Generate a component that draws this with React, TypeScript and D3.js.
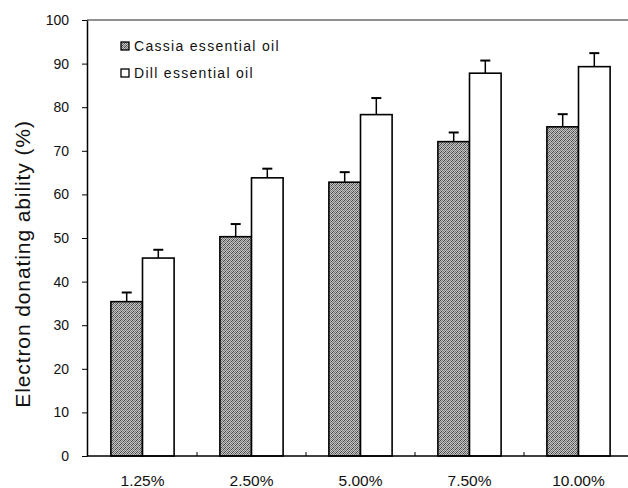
import React, { useEffect, useRef } from "react";
import * as d3 from "d3";

const categories = ["1.25%", "2.50%", "5.00%", "7.50%", "10.00%"];
const cassia = [35.4, 50.3, 62.8, 72.1, 75.5];
const cassiaErr = [2.1, 2.9, 2.3, 2.1, 2.9];
const dill = [45.4, 63.8, 78.3, 87.8, 89.3];
const dillErr = [1.9, 2.1, 3.8, 2.9, 3.1];
const yTicks = [0, 10, 20, 30, 40, 50, 60, 70, 80, 90, 100];
const seriesNames = ["Cassia essential oil", "Dill essential oil"];

const FONT = "'Liberation Sans', Arial, Helvetica, sans-serif";

const App = () => {
  const ref = useRef<SVGSVGElement>(null);

  useEffect(() => {
    const svg = d3.select(ref.current);
    svg.selectAll("*").remove();

    const W = 628;
    const H = 488;
    const left = 87;
    const top = 20;
    const bottom = 456;

    svg.attr("width", W).attr("height", H);

    // stippled grey fill for the cassia bars
    const defs = svg.append("defs");
    const pat = defs
      .append("pattern")
      .attr("id", "stipple")
      .attr("patternUnits", "userSpaceOnUse")
      .attr("width", 4)
      .attr("height", 4);
    pat.append("rect").attr("width", 4).attr("height", 4).attr("fill", "#c4c4c4");
    [
      [0, 0],
      [2, 0],
      [1, 1],
      [3, 1],
      [0, 2],
      [2, 2],
      [1, 3],
      [3, 3],
    ].forEach(([x, y], i) => {
      pat
        .append("rect")
        .attr("x", x)
        .attr("y", y)
        .attr("width", 1)
        .attr("height", 1)
        .attr("fill", i % 3 === 0 ? "#444" : "#777");
    });

    const x0 = d3.scaleBand().domain(categories).range([88, 633]).paddingInner(0.42).paddingOuter(0.21);
    const x1 = d3.scaleBand().domain(seriesNames).range([0, x0.bandwidth()]);
    const y = d3.scaleLinear().domain([0, 100]).range([bottom, top]);

    // top frame line
    svg.append("line").attr("x1", left).attr("x2", W).attr("y1", top).attr("y2", top).attr("stroke", "#222").attr("stroke-width", 1.2);

    const yAxis = svg
      .append("g")
      .attr("transform", `translate(${left},0)`)
      .call(d3.axisLeft(y).tickValues(yTicks).tickSize(5).tickSizeOuter(0).tickPadding(13));
    yAxis.select(".domain").attr("stroke", "#000").attr("stroke-width", 1.5);
    yAxis.selectAll("line").attr("stroke", "#000");
    yAxis.selectAll("text").style("font-family", FONT).style("font-size", "14px").attr("fill", "#111");

    const series = [
      { name: seriesNames[0], vals: cassia, err: cassiaErr, fill: "url(#stipple)" },
      { name: seriesNames[1], vals: dill, err: dillErr, fill: "#fff" },
    ];

    series.forEach((s) => {
      const g = svg.append("g");
      categories.forEach((c, i) => {
        const bx = (x0(c) as number) + (x1(s.name) as number);
        const bw = x1.bandwidth();
        const cx = bx + bw / 2;
        g.append("line")
          .attr("x1", cx)
          .attr("x2", cx)
          .attr("y1", y(s.vals[i]))
          .attr("y2", y(s.vals[i] + s.err[i]))
          .attr("stroke", "#000")
          .attr("stroke-width", 1.5);
        g.append("line")
          .attr("x1", cx - 5)
          .attr("x2", cx + 5)
          .attr("y1", y(s.vals[i] + s.err[i]))
          .attr("y2", y(s.vals[i] + s.err[i]))
          .attr("stroke", "#000")
          .attr("stroke-width", 2);
        g.append("rect")
          .attr("x", bx)
          .attr("y", y(s.vals[i]))
          .attr("width", bw)
          .attr("height", bottom - y(s.vals[i]))
          .attr("fill", s.fill)
          .attr("stroke", "#000")
          .attr("stroke-width", 1.6);
      });
    });

    // x axis
    svg.append("line").attr("x1", left).attr("x2", W).attr("y1", bottom).attr("y2", bottom).attr("stroke", "#000").attr("stroke-width", 1.5);
    categories.slice(1).forEach((c) => {
      const bx = (x0(c) as number) - (x0.step() * 0.42) / 2;
      svg.append("line").attr("x1", bx).attr("x2", bx).attr("y1", bottom).attr("y2", bottom - 4).attr("stroke", "#000");
    });
    categories.forEach((c) => {
      svg
        .append("text")
        .attr("x", (x0(c) as number) + x0.bandwidth() / 2)
        .attr("y", 486)
        .attr("text-anchor", "middle")
        .style("font-family", FONT)
        .style("font-size", "15.5px")
        .attr("fill", "#111")
        .text(c);
    });

    // y label
    svg
      .append("text")
      .attr("transform", `translate(30,264) rotate(-90)`)
      .attr("text-anchor", "middle")
      .style("font-family", FONT)
      .style("font-size", "21px")
      .style("letter-spacing", "0.9px")
      .attr("fill", "#111")
      .text("Electron donating ability (%)");

    // legend
    const leg = svg.append("g").attr("transform", "translate(121,42)");
    series.forEach((s, i) => {
      leg
        .append("rect")
        .attr("x", 0)
        .attr("y", i * 27)
        .attr("width", 8)
        .attr("height", 8)
        .attr("fill", s.fill)
        .attr("stroke", "#000")
        .attr("stroke-width", 1.3);
      leg
        .append("text")
        .attr("x", 13)
        .attr("y", i * 27 + 9)
        .style("font-family", FONT)
        .style("font-size", "14px")
        .style("letter-spacing", "1.3px")
        .attr("fill", "#111")
        .text(s.name);
    });
  }, []);

  return <svg ref={ref} style={{ position: "absolute", left: 0, top: 0, display: "block" }}></svg>;
};

export default App;
